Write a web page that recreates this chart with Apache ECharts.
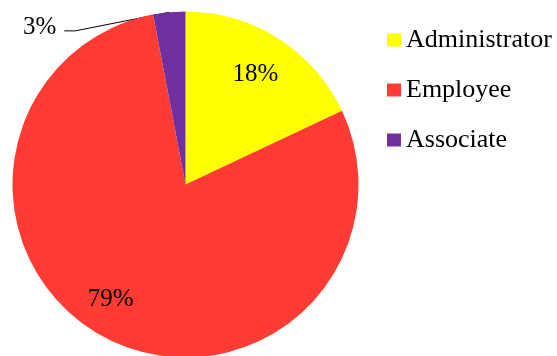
<!DOCTYPE html>
<html>
<head>
<meta charset="utf-8">
<script src="https://cdn.jsdelivr.net/npm/echarts@6/dist/echarts.min.js"></script>
<style>
  html, body { margin: 0; padding: 0; background: #fff; }
  #chart { width: 557px; height: 356px; }
</style>
</head>
<body>
<div id="chart"></div>
<script>
// Staff composition by role (percent)
const categories = ['Administrator', 'Employee', 'Associate'];
const shares = [18, 79, 3];
const colors = ['#FFFF00', '#FF3B33', '#7030A0'];

const FONT = 'Liberation Serif';
const CENTER = [185.5, 184.5];
const R = 173;

const pieData = categories.map((name, i) => ({
  name: name,
  value: shares[i],
  itemStyle: { color: colors[i] }
}));

const chart = echarts.init(document.getElementById('chart'), null, { renderer: 'canvas' });

chart.setOption({
  animation: false,
  backgroundColor: '#ffffff',
  textStyle: { fontFamily: FONT },
  legend: {
    orient: 'vertical',
    left: 387,
    top: 27,
    padding: 0,
    itemWidth: 14,
    itemHeight: 13,
    itemGap: 24,
    icon: 'rect',
    data: categories,
    textStyle: { fontFamily: FONT, fontSize: 26, color: '#000', lineHeight: 25 }
  },
  series: [
    {
      // full pie with the small slice's outside label
      type: 'pie',
      center: CENTER,
      radius: R,
      startAngle: 90,
      clockwise: true,
      silent: true,
      data: pieData.map((d, i) => Object.assign({}, d, {
        label: {
          show: i === 2,
          position: 'outside',
          formatter: '{d}%',
          fontFamily: FONT,
          fontSize: 25,
          color: '#000'
        },
        labelLine: {
          show: i === 2,
          length: 10,
          length2: 10,
          lineStyle: { color: '#000', width: 1 }
        }
      })),
      labelLayout: function (p) {
        if (p.dataIndex !== 2 || !p.labelLinePoints) return {};
        const a = p.labelLinePoints[0];
        const bend = [a[0] - 94, a[1] + 18.6];
        const end = [bend[0] - 11, bend[1]];
        return {
          x: end[0] - 8,
          y: end[1] - 3,
          align: 'right',
          verticalAlign: 'middle',
          labelLinePoints: [[a[0], a[1]], bend, end]
        };
      }
    },
    {
      // transparent ring carrying the in-slice percentage labels
      type: 'pie',
      center: CENTER,
      radius: [89, R],
      startAngle: 90,
      clockwise: true,
      silent: true,
      itemStyle: { color: 'rgba(0,0,0,0)' },
      data: pieData.map((d, i) => ({
        name: d.name,
        value: d.value,
        itemStyle: { color: 'rgba(0,0,0,0)' },
        label: {
          show: i !== 2,
          position: 'inside',
          formatter: '{d}%',
          fontFamily: FONT,
          fontSize: 25,
          color: '#000',
          offset: i === 1 ? [-14, -4] : [-2, 3]
        },
        labelLine: { show: false }
      }))
    }
  ]
});
</script>
</body>
</html>
